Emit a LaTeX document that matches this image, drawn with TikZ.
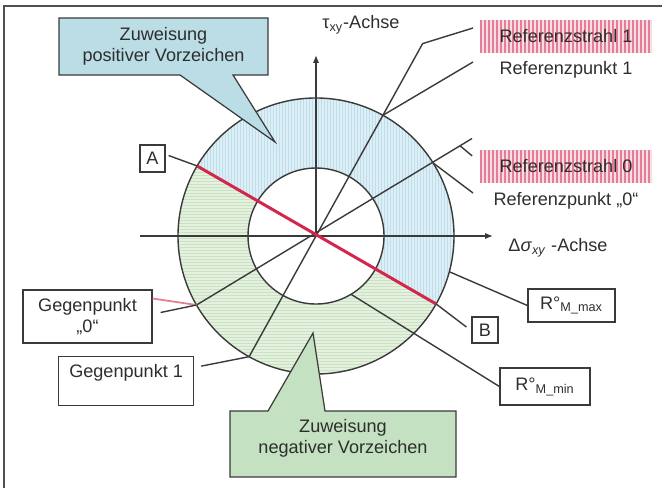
\documentclass[tikz,border=0pt]{standalone}
\usepackage{fontspec}
\setmainfont{Liberation Sans}
\usepackage{tikz}
\usetikzlibrary{positioning,calc,arrows.meta}
\definecolor{DiaGrey}{HTML}{3A3A3A}
\definecolor{DiaText}{HTML}{2E2E2E}
\definecolor{DiaFrame}{HTML}{505050}
\definecolor{DiaRed}{HTML}{D2264C}
\definecolor{DiaBlue}{HTML}{DDEFF6}
\definecolor{DiaBlueLine}{HTML}{C0DEEA}
\definecolor{DiaGreen}{HTML}{E5F1DF}
\definecolor{DiaGreenLine}{HTML}{CBE1C3}
\definecolor{DiaCallBlue}{HTML}{BBDDE6}
\definecolor{DiaCallGreen}{HTML}{C4E1C1}
\definecolor{DiaPink}{HTML}{F8DDE4}
\definecolor{DiaPinkLine}{HTML}{E67D96}

\begin{document}
\begin{tikzpicture}[x=0.02cm,y=0.02cm,
  font=\fontsize{10.3}{11.8}\selectfont,
  line/.style={DiaGrey,line width=0.8pt},
  axis/.style={line,-{Latex[length=4.5pt,width=3.6pt]}},
  refline/.style={DiaRed,line width=1.7pt},
  lbl/.style={text=DiaText,inner sep=1pt,align=center},
  box/.style={draw=DiaGrey,line width=0.7pt,fill=white,text=DiaText,inner sep=2pt,align=center},
  strahl/.style={fill=DiaPink,text=DiaText,minimum width=3.44cm,minimum height=0.66cm,
    path picture={\foreach \s in {1,5,...,171}
      \draw[DiaPinkLine,line width=0.9pt] ([xshift=\s*0.02cm]path picture bounding box.south west)
        -- ([xshift=\s*0.02cm]path picture bounding box.north west);}},
  callout/.style={draw=DiaGrey,line width=0.7pt}]
  \useasboundingbox (0,0) rectangle (662,488);
  \draw[DiaFrame,line width=1.1pt] (4,0) -- (4,482) -- (662,482);

  % points on the two circles
  \coordinate (O) at (316,252);
  \coordinate (pA) at ($(O)+(149.5:138)$);
  \coordinate (pB) at ($(O)+(-29.5:138)$);
  \coordinate (p1) at ($(O)+(61:138)$);
  \coordinate (q1) at ($(O)+(241:138)$);
  \coordinate (k1) at ($(O)+(61:220)$);
  \coordinate (p0) at ($(O)+(32:138)$);
  \coordinate (q0) at ($(O)+(210:138)$);
  \coordinate (e0) at ($(O)+(32:184)$);
  \coordinate (t0) at ($(O)+(32:170)$);
  \coordinate (pmax) at ($(O)+(-15:138)$);
  \coordinate (pmin) at ($(O)+(-59:68)$);
  \coordinate (xa) at (140,252);
  \coordinate (xe) at (493,252);
  \coordinate (ye) at (316,433);
  \coordinate (r1end) at (473,460);
  \coordinate (rp1end) at (473,426);
  \coordinate (rp0end) at (473,295);
  \coordinate (ptip) at (275,346);
  \coordinate (ntip) at (313,155);

  % ring, upper part
  \begin{scope}
    \clip (pB) arc[start angle=-29.5,end angle=149.5,radius=138]
      -- ($(O)+(149.5:68)$) arc[start angle=149.5,end angle=-29.5,radius=68] -- cycle;
    \fill[DiaBlue] (170,100) rectangle (460,400);
    \foreach \x in {171,174,...,459}
      \draw[DiaBlueLine,line width=0.4pt] (\x,100) -- (\x,400);
  \end{scope}
  % ring, lower part
  \begin{scope}
    \clip (pA) arc[start angle=149.5,end angle=330.5,radius=138]
      -- ($(O)+(330.5:68)$) arc[start angle=330.5,end angle=149.5,radius=68] -- cycle;
    \fill[DiaGreen] (170,100) rectangle (460,400);
    \foreach \y in {112,115,...,334}
      \draw[DiaGreenLine,line width=0.4pt] (170,\y) -- (460,\y);
  \end{scope}

  \draw[line] (O) circle[radius=138];
  \draw[line] (O) circle[radius=68];
  \draw[axis] (xa) -- (xe);
  \draw[axis] (O) -- (ye);
  \draw[line] (q1) -- (k1) -- (r1end);
  \draw[line] (q0) -- (e0);
  \draw[line] (t0) -- ++(12,-10);
  \draw[line] (p1) -- (rp1end);
  \draw[line] (p0) -- (rp0end);
  \draw[refline] (pA) -- (pB);

  % callouts
  \filldraw[callout,fill=DiaCallBlue] (59,470) -- (268,470) -- (268,413) -- (233,413)
    -- (ptip) -- (180,413) -- (59,413) -- cycle;
  \node[lbl] (zpos) at (163.5,441.5) {Zuweisung\\positiver Vorzeichen};
  \filldraw[callout,fill=DiaCallGreen] (230,77) -- (268,77) -- (ntip) -- (325,77)
    -- (456,77) -- (456,11) -- (230,11) -- cycle;
  \node[lbl] (zneg) at (343,50) {Zuweisung\\negativer Vorzeichen};

  % labels and boxes
  \node[strahl] (rs1) at (566,451.5) {Referenzstrahl 1};
  \node[lbl,below=0.11cm of rs1] (rp1) {Referenzpunkt 1};
  \node[strahl] (rs0) at (566,322) {Referenzstrahl 0};
  \node[lbl,below=0.15cm of rs0] (rp0) {Referenzpunkt „0“};
  \node[lbl] (tau) at (361,463) {τ\textsubscript{xy}-Achse};
  \node[lbl] (sig) at (558,240) {Δ\textit{σ}\textsubscript{\textit{xy}} -Achse};
  \node[box,minimum width=0.5cm,minimum height=0.54cm] (A) at (152.5,329.5) {A};
  \node[box,minimum width=0.52cm,minimum height=0.52cm] (B) at (485,158) {B};
  \node[box,minimum width=1.74cm,minimum height=0.66cm] (rmax) at (571.5,182.5) {R°\textsubscript{M\_max}};
  \node[box,minimum width=1.8cm,minimum height=0.74cm] (rmin) at (545,101.5) {R°\textsubscript{M\_min}};
  \node[box,minimum width=2.58cm,minimum height=1.06cm] (gp0) at (87.5,171.5) {Gegenpunkt\\„0“};
  \node[box,anchor=north west,minimum width=2.7cm,text height=0.35cm,text depth=0.49cm] (gp1) at (58,132) {Gegenpunkt 1};

  \draw[line] (pA) -- ([shift={(3,3)}]A.east);
  \draw[line] (pB) -- ([shift={(-5,3)}]B.west);
  \draw[line] (pmax) -- (rmax.west);
  \draw[line] (pmin) -- (rmin.west);
  \draw[DiaRed!60,line width=1pt] ([shift={(0,18)}]gp0.east) -- (q0);
  \draw[line] (q0) -- ([shift={(8,4)}]gp0.east);
  \draw[line] (q1) -- ([shift={(7,15)}]gp1.east);
\end{tikzpicture}
\end{document}
